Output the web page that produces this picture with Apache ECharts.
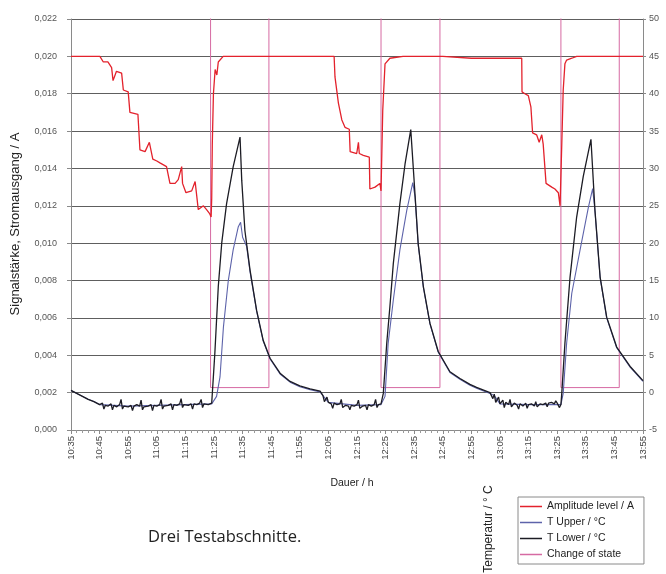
<!DOCTYPE html>
<html><head><meta charset="utf-8">
<script src="https://cdn.jsdelivr.net/npm/echarts@6/dist/echarts.min.js"></script>
<style>html,body{margin:0;padding:0;background:#fff}#c{width:666px;height:574px}</style>
</head><body><div id="c"></div>
<script>
// time in minutes after 10:35
const timeLabels = ['10:35','10:45','10:55','11:05','11:15','11:25','11:35','11:45','11:55','12:05','12:15','12:25','12:35','12:45','12:55','13:05','13:15','13:25','13:35','13:45','13:55'];

// Amplitude level / A (left axis)
const amplitude = [
  [0,0.0200],[10.1,0.0200],[11.3,0.0197],[12.9,0.0197],[14.2,0.0194],[14.7,0.0187],[15.9,0.0192],[17.7,0.0191],
  [18.3,0.0182],[20,0.0181],[20.6,0.0170],[23.4,0.0169],[24.1,0.0150],[25.9,0.0149],[27.4,0.0154],[28.6,0.0145],
  [30,0.0144],[31.1,0.0143],[33.4,0.0141],[34.6,0.0132],[36.4,0.0132],[37.5,0.0134],[38.7,0.0141],[39,0.0132],
  [40.2,0.0127],[42.2,0.0128],[43.4,0.0133],[44.5,0.0118],[46.3,0.0120],[47.4,0.0118],[48.4,0.0116],[49.0,0.0114],
  [49.2,0.0124],[49.4,0.0153],[49.8,0.0180],[50.4,0.0193],[51.0,0.0190],[51.5,0.0197],[53.2,0.0200],
  [92,0.0200],[92.3,0.0189],[93.5,0.0175],[94.7,0.0166],[95.8,0.0162],[97.3,0.0161],[97.6,0.0149],[99.9,0.0148],
  [100.5,0.0154],[100.8,0.0148],[102.2,0.0147],[104.3,0.0146],[104.5,0.0129],[106.3,0.0130],[108,0.0132],
  [108.4,0.0128],[109,0.0171],[109.8,0.0196],[111.5,0.0199],[116.1,0.0200],
  [130,0.0200],[140,0.0199],[150,0.0199],[157.6,0.0199],[157.7,0.0181],[158.7,0.0180],[159.9,0.0179],[160.8,0.0173],
  [161.4,0.0159],[162.8,0.0158],[163.7,0.0154],[164.6,0.0158],[165.1,0.0153],[166.1,0.0132],[168.1,0.0130],
  [169.2,0.0129],[170.4,0.0127],[171,0.0120],[171.6,0.0153],[172.1,0.0182],[172.7,0.0196],[173.3,0.0198],
  [175.1,0.0199],[176.8,0.0200],[200,0.0200]
];

// T Upper / °C (right axis)
const tUpper = [
  [0,0.3],[3,-0.3],[6,-0.9],[8,-1.2],[10,-1.6],[20,-1.8],[30,-1.7],[40,-1.6],[49.2,-1.5],
  [50.9,-0.5],[52.1,2.1],[53.3,8.8],[55,15.0],[56.7,19.1],[58.5,22.2],[59.3,22.8],[60,20.8],[61.4,19.6],
  [62.6,16.2],[64.9,10.9],[67.2,6.9],[69.6,4.5],[73.1,2.5],[76.6,1.4],[80,0.8],[83.6,0.4],[87.1,0.1],
  [88.1,-0.4],[90,-1.3],[100,-1.7],[108.4,-1.6],
  [109.8,-0.5],[110.9,6.6],[112.7,12.4],[115,19.1],[117.4,24.4],[119.5,28.1],[120.3,26.2],
  [121.4,19.8],[123.2,14.1],[125.5,9.2],[128.4,5.4],[132.5,2.7],[136,1.8],[139.5,1.0],[141.8,0.6],
  [146.5,-0.1],[148,-0.4],[150,-1.5],[160,-1.6],[171.3,-1.6],
  [172.1,-0.1],[173.3,6.6],[175.1,13.3],[178,19.1],[180.9,24.8],[182.4,27.3],[183.2,24.3],
  [185,15.4],[187.3,10],[190.8,6],[195.5,3.4],[200,1.5]
];

// T Lower / °C (right axis)
const tLower = [
  [0,0.3],[3,-0.3],[6,-0.9],[8,-1.2],[10,-1.6],[11,-1.4],[11.5,-2.2],[12,-1.7],[13,-1.8],[14,-1.5],[14.5,-2.3],
  [15,-1.7],[16,-1.9],[17,-1.6],[17.5,-0.9],[18,-2.2],[18.5,-1.8],[20,-1.9],[21,-1.7],[21.5,-2.4],[22,-1.8],
  [23,-1.6],[24,-1.8],[24.5,-1.0],[25,-2.3],[25.5,-1.9],[27,-1.8],[28,-1.6],[28.5,-2.4],[29,-1.7],[30,-1.8],
  [31,-1.6],[31.5,-0.9],[32,-2.2],[32.5,-1.8],[34,-1.7],[35,-1.5],[35.5,-2.3],[36,-1.6],[37,-1.7],[38,-1.5],
  [38.5,-0.8],[39,-2.0],[39.5,-1.6],[41,-1.7],[42,-1.5],[42.5,-2.2],[43,-1.5],[44,-1.6],[45,-1.4],[45.5,-0.9],
  [46,-2.0],[46.5,-1.5],[48,-1.6],[49.2,-1.4],
  [50.3,5.3],[51.5,14.2],[52.7,20.0],[54.4,25.3],[56.7,30.2],[59.1,34.2],
  [59.7,28.4],[60.8,21.7],[62.6,16.4],[64.9,11.0],[67.2,7.0],[69.6,4.6],[73.1,2.6],[76.6,1.5],[80,0.9],
  [83.6,0.5],[87.1,0.2],
  [88.1,-0.4],[88.6,-1.2],[89.5,-0.6],[90,-1.3],[91,-1.5],[91.5,-2.1],[92,-1.4],[93,-1.6],[94,-1.5],[94.5,-0.9],
  [95,-2.0],[96,-1.7],[97,-1.8],[97.5,-2.3],[98,-1.7],[99,-1.8],[100,-1.6],[100.5,-1.0],[101,-2.1],[102,-1.8],
  [103,-1.7],[103.5,-2.3],[104,-1.6],[105,-1.8],[106,-1.6],[106.5,-0.9],[107,-2.0],[107.5,-1.6],[108.4,-1.5],
  [109.2,-0.1],[110.4,6.6],[111.5,11.5],[112.7,17.3],[115,25.3],[116.8,30.6],[118.8,35.2],
  [119.9,28.8],[121.4,19.9],[123.2,14.2],[125.5,9.3],[128.4,5.5],[132.5,2.8],[136,1.9],[139.5,1.1],[141.8,0.7],
  [146.5,0.0],[147.5,-0.8],[148,-0.2],[148.5,-1.3],[149.5,-0.6],[150,-1.5],[151,-1.0],[151.5,-2.0],[152,-1.3],
  [153,-1.6],[153.5,-0.9],[154,-1.9],[155,-1.4],[156,-1.7],[156.5,-2.2],[157,-1.5],[158,-1.8],[159,-1.4],
  [159.5,-2.1],[160,-1.6],[161,-1.5],[162,-1.8],[162.5,-1.2],[163,-1.9],[164,-1.5],[165,-1.6],[166,-1.4],
  [166.5,-1.9],[167,-1.4],[168,-1.3],[169,-1.5],[169.5,-1.1],[170,-1.4],[170.8,-2.0],[171.3,-1.6],
  [171.6,-0.1],[172.7,6.6],[174.5,15.5],[176.8,23.5],[179.1,28.9],[181.8,33.9],
  [183.2,24.4],[185,15.5],[187.3,10.1],[190.8,6.1],[195.5,3.5],[200,1.6]
];

// Change of state (left axis; high level lies above the plotted range)
const changeOfState = [
  [0,0.03],[48.8,0.03],[48.8,0.00227],[69.2,0.00227],[69.2,0.03],[108.4,0.03],[108.4,0.00227],
  [129,0.00227],[129,0.03],[171.3,0.03],[171.3,0.00227],[191.7,0.00227],[191.7,0.03],[200,0.03]
];

const seriesNames = ['Amplitude level / A','T Upper / °C','T Lower / °C','Change of state'];

const FONT = 'Liberation Sans, Arial, sans-serif';
const chart = echarts.init(document.getElementById('c'), null, {renderer:'canvas'});
chart.setOption({
  animation: false,
  backgroundColor: '#fff',
  textStyle: {fontFamily: FONT},
  grid: {left: 71, right: 23, top: 19, bottom: 144, containLabel: false},
  legend: {
    orient: 'vertical', left: 518, top: 497,
    data: seriesNames,
    icon: 'rect', itemWidth: 22, itemHeight: 1.5, itemGap: 5,
    padding: [4, 10, 4, 2],
    borderColor: '#8a8a8a', borderWidth: 1,
    textStyle: {fontSize: 10.5, color: '#222', fontFamily: FONT}
  },
  xAxis: {
    type: 'value', min: 0, max: 200, interval: 10,
    axisLine: {show: true, onZero: false, lineStyle: {color: '#8a8a8a', width: 1}},
    axisTick: {show: true, length: 4, lineStyle: {color: '#8a8a8a'}},
    minorTick: {show: true, splitNumber: 5, length: 3, lineStyle: {color: '#9a9a9a'}},
    splitLine: {show: false},
    axisLabel: {
      rotate: 90, fontSize: 9.5, color: '#444', margin: 6,
      formatter: function (v) { return timeLabels[Math.round(v / 10)] || ''; }
    }
  },
  yAxis: [
    {
      type: 'value', min: 0, max: 0.022, interval: 0.002, position: 'left',
      axisLine: {show: true, lineStyle: {color: '#8a8a8a', width: 1}},
      axisTick: {show: true, length: 4, lineStyle: {color: '#8a8a8a'}},
      splitLine: {show: true, lineStyle: {color: '#5e5e5e', width: 1.2}},
      axisLabel: {fontSize: 9, color: '#555', margin: 14,
        formatter: function (v) { return v.toFixed(3).replace('.', ','); }}
    },
    {
      type: 'value', min: -5, max: 50, interval: 5, position: 'right',
      axisLine: {show: true, lineStyle: {color: '#8a8a8a', width: 1}},
      axisTick: {show: true, length: 3, lineStyle: {color: '#8a8a8a'}},
      splitLine: {show: false},
      axisLabel: {fontSize: 9, color: '#555', margin: 6}
    }
  ],
  series: [
    {
      name: seriesNames[3], type: 'line', yAxisIndex: 0, data: changeOfState,
      showSymbol: false, symbol: 'none', clip: true, z: 1,
      color: '#d66aa3', lineStyle: {color: '#d66aa3', width: 1}
    },
    {
      name: seriesNames[0], type: 'line', yAxisIndex: 0, data: amplitude,
      showSymbol: false, symbol: 'none', z: 4,
      color: '#e3222c', lineStyle: {color: '#e3222c', width: 1.3}
    },
    {
      name: seriesNames[1], type: 'line', yAxisIndex: 1, data: tUpper,
      showSymbol: false, symbol: 'none', z: 2,
      color: '#5d63aa', lineStyle: {color: '#5d63aa', width: 1.1}
    },
    {
      name: seriesNames[2], type: 'line', yAxisIndex: 1, data: tLower,
      showSymbol: false, symbol: 'none', z: 3,
      color: '#1c1c24', lineStyle: {color: '#1c1c24', width: 1.3}
    }
  ],
  graphic: [
    {type: 'text', x: 15, y: 224, rotation: Math.PI / 2,
      style: {text: 'Signalstärke, Stromausgang / A', font: '13px ' + FONT, fill: '#222', align: 'center', verticalAlign: 'middle'}},
    {type: 'text', x: 352, y: 483,
      style: {text: 'Dauer / h', font: '10.5px ' + FONT, fill: '#222', align: 'center', verticalAlign: 'middle'}},
    {type: 'text', x: 489, y: 529, rotation: Math.PI / 2,
      style: {text: 'Temperatur / ° C', font: '12px ' + FONT, fill: '#222', align: 'center', verticalAlign: 'middle'}},
    {type: 'text', x: 148, y: 537,
      style: {text: 'Drei Testabschnitte.', font: '16.5px "Open Sans", ' + FONT, fill: '#222', align: 'left', verticalAlign: 'middle'}}
  ]
});
</script></body></html>
